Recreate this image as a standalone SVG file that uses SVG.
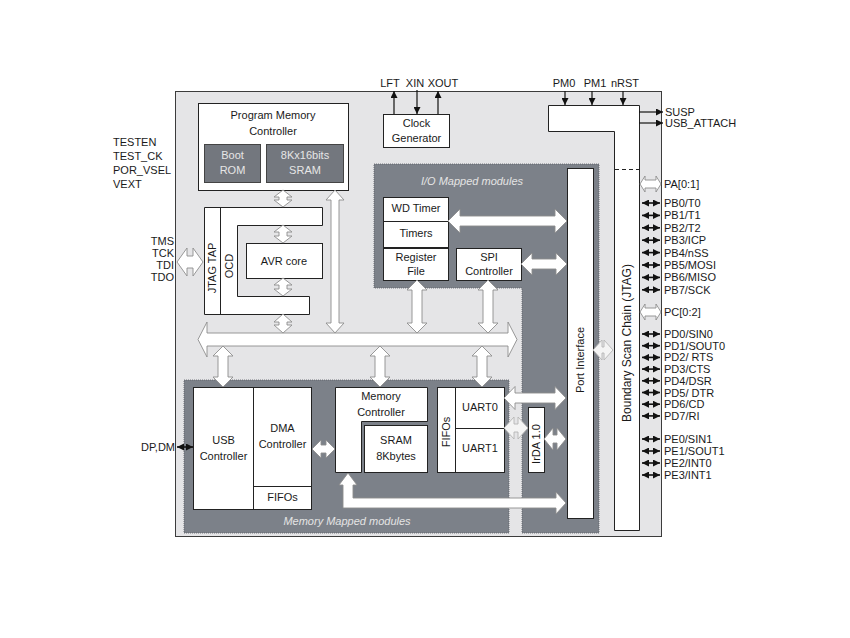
<svg xmlns="http://www.w3.org/2000/svg" width="850" height="638" viewBox="0 0 850 638">
<defs>
<marker id="ah" viewBox="0 0 10 10" refX="10" refY="5" markerWidth="7" markerHeight="7" orient="auto-start-reverse" markerUnits="userSpaceOnUse"><path d="M0,0 L10,5 L0,10 z" fill="#111"/></marker>
<style>
text{font-family:"Liberation Sans",Arial,sans-serif;font-size:11px;fill:#1a1a1a}
.c{text-anchor:middle}
.r{text-anchor:end}
.lt{fill:#e6e6e6}
.it{font-style:italic;fill:#e4e4e4}
.box{fill:#fff;stroke:#222;stroke-width:1}
.dk{fill:#7c8189;stroke:#5a5e64;stroke-width:0.8;stroke-dasharray:1 1}
.rom{fill:#73777e;stroke:#444;stroke-width:1}
.fat{fill:#fff;stroke:#8d8d8d;stroke-width:0.9}
.fatl{fill:#f4f4f4;stroke:#b4b4b4;stroke-width:0.9}
.ln{stroke:#111;stroke-width:1.2;fill:none}
.pin{stroke:#111;stroke-width:1.6;fill:none;marker-start:url(#ah);marker-end:url(#ah)}
</style>
</defs>
<rect width="850" height="638" fill="#fff"/>

<g id="chip">
<rect x="175.5" y="91.5" width="486" height="445" fill="#e5e5e7" stroke="#3c3c3c" stroke-width="1"/>
<path class="dk" d="M374,164 L599,164 L599,533 L522,533 L522,288 L374,288 Z"/>
<rect class="dk" x="184" y="380" width="325" height="153"/>
<text class="it c" x="472" y="185">I/O Mapped modules</text>
<text class="it c" x="347" y="525">Memory Mapped modules</text>
</g>

<g id="ext-labels">
<text x="113" y="146">TESTEN</text>
<text x="113" y="160">TEST_CK</text>
<text x="113" y="174">POR_VSEL</text>
<text x="113" y="188">VEXT</text>
<text class="r" x="174" y="245">TMS</text>
<text class="r" x="174" y="257">TCK</text>
<text class="r" x="174" y="269">TDI</text>
<text class="r" x="174" y="281">TDO</text>
<text class="r" x="175" y="451">DP,DM</text>
<text class="c" x="390" y="87">LFT</text>
<text class="c" x="415" y="87">XIN</text>
<text class="c" x="443" y="87">XOUT</text>
<text class="c" x="564" y="87">PM0</text>
<text class="c" x="595" y="87">PM1</text>
<text class="c" x="625" y="87">nRST</text>
<text x="665" y="116">SUSP</text>
<text x="665" y="127">USB_ATTACH</text>
</g>

<g id="program-memory">
<rect class="box" x="198.5" y="103.5" width="150" height="87"/>
<text class="c" x="273" y="119">Program Memory</text>
<text class="c" x="273" y="135">Controller</text>
<rect class="rom" x="204.5" y="144.5" width="56" height="38"/>
<text class="c lt" x="232.5" y="159">Boot</text>
<text class="c lt" x="232.5" y="174">ROM</text>
<rect class="rom" x="266.5" y="144.5" width="77" height="38"/>
<text class="c lt" x="305" y="159">8Kx16bits</text>
<text class="c lt" x="305" y="174">SRAM</text>
</g>

<g id="clock-generator">
<rect class="box" x="383.5" y="114.5" width="66" height="33"/>
<text class="c" x="416.5" y="127">Clock</text>
<text class="c" x="416.5" y="142">Generator</text>
</g>

<g id="jtag-ocd">
<path class="box" d="M204.5,207.5 L322.5,207.5 L322.5,225.5 L237.5,225.5 L237.5,296.5 L309.5,296.5 L309.5,314.5 L204.5,314.5 Z"/>
<line x1="220.5" y1="207.5" x2="220.5" y2="314.5" stroke="#222"/>
<text class="c" transform="translate(216,268) rotate(-90)">JTAG TAP</text>
<text class="c" transform="translate(233,266) rotate(-90)">OCD</text>
</g>

<g id="avr-core">
<rect class="box" x="246.5" y="243.5" width="76" height="35"/>
<text class="c" x="284" y="265">AVR core</text>
</g>

<g id="timers">
<rect class="box" x="383.5" y="197.5" width="65" height="24"/>
<text class="c" x="416" y="212">WD Timer</text>
<rect class="box" x="383.5" y="221.5" width="65" height="26"/>
<text class="c" x="416" y="237">Timers</text>
</g>
<g id="register-file">
<rect class="box" x="383.5" y="248.5" width="65" height="32"/>
<text class="c" x="416" y="261">Register</text>
<text class="c" x="416" y="275">File</text>
</g>
<g id="spi">
<rect class="box" x="456.5" y="248.5" width="65" height="32"/>
<text class="c" x="489" y="261">SPI</text>
<text class="c" x="489" y="275">Controller</text>
</g>

<g id="port-interface">
<rect class="box" x="567.5" y="168.5" width="26" height="350"/>
<text class="c" transform="translate(584,360) rotate(-90)">Port Interface</text>
</g>

<g id="power-scan">
<path class="box" d="M548.5,105.5 L639.5,105.5 L639.5,530.5 L614.5,530.5 L614.5,131.5 L548.5,131.5 Z"/>
<line x1="615" y1="169.5" x2="639" y2="169.5" stroke="#222" stroke-dasharray="4 3"/>
<text class="c" transform="translate(631,343) rotate(-90)" style="font-size:12px">Boundary Scan Chain (JTAG)</text>
</g>

<g id="usb">
<rect class="box" x="193.5" y="387.5" width="60" height="122"/>
<text class="c" x="223.5" y="444">USB</text>
<text class="c" x="223.5" y="460">Controller</text>
</g>
<g id="dma">
<rect class="box" x="253.5" y="387.5" width="58" height="122"/>
<line x1="253.5" y1="486.5" x2="311.5" y2="486.5" stroke="#222"/>
<text class="c" x="282.5" y="432">DMA</text>
<text class="c" x="282.5" y="448">Controller</text>
<text class="c" x="282.5" y="501">FIFOs</text>
</g>

<g id="memory-controller">
<path class="box" d="M335.5,387.5 L427.5,387.5 L427.5,421.5 L361.5,421.5 L361.5,472.5 L335.5,472.5 Z"/>
<text class="c" x="381" y="400">Memory</text>
<text class="c" x="381" y="416">Controller</text>
</g>
<g id="sram">
<rect class="box" x="364.5" y="425.5" width="63" height="47"/>
<text class="c" x="396" y="444">SRAM</text>
<text class="c" x="396" y="460">8Kbytes</text>
</g>

<g id="uarts">
<rect class="box" x="437.5" y="387.5" width="18" height="85"/>
<text class="c" transform="translate(450,432) rotate(-90)">FIFOs</text>
<rect class="box" x="455.5" y="387.5" width="49" height="41"/>
<text class="c" x="480" y="411">UART0</text>
<rect class="box" x="455.5" y="428.5" width="49" height="44"/>
<text class="c" x="480" y="452">UART1</text>
</g>

<g id="irda">
<rect class="box" x="528.5" y="407.5" width="16" height="65"/>
<text class="c" transform="translate(540,444) rotate(-90)">IrDA 1.0</text>
</g>

<g id="pins">
<path class="fat" d="M640,184 L645,176 L645,180 L656,180 L656,176 L661,184 L656,192 L656,188 L645,188 L645,192 Z"/>
<text x="664" y="188">PA[0:1]</text>
<line class="pin" x1="642" y1="203" x2="660" y2="203"/><text x="664" y="207">PB0/T0</text>
<line class="pin" x1="642" y1="215.4" x2="660" y2="215.4"/><text x="664" y="219.4">PB1/T1</text>
<line class="pin" x1="642" y1="227.8" x2="660" y2="227.8"/><text x="664" y="231.8">PB2/T2</text>
<line class="pin" x1="642" y1="240.2" x2="660" y2="240.2"/><text x="664" y="244.2">PB3/ICP</text>
<line class="pin" x1="642" y1="252.6" x2="660" y2="252.6"/><text x="664" y="256.6">PB4/nSS</text>
<line class="pin" x1="642" y1="265" x2="660" y2="265"/><text x="664" y="269">PB5/MOSI</text>
<line class="pin" x1="642" y1="277.4" x2="660" y2="277.4"/><text x="664" y="281.4">PB6/MISO</text>
<line class="pin" x1="642" y1="289.8" x2="660" y2="289.8"/><text x="664" y="293.8">PB7/SCK</text>
<path class="fat" d="M640,312 L645,304 L645,308 L656,308 L656,304 L661,312 L656,320 L656,316 L645,316 L645,320 Z"/>
<text x="664" y="316">PC[0:2]</text>
<line class="pin" x1="642" y1="334" x2="660" y2="334"/><text x="664" y="338">PD0/SIN0</text>
<line class="pin" x1="642" y1="345.7" x2="660" y2="345.7"/><text x="664" y="349.7">PD1/SOUT0</text>
<line class="pin" x1="642" y1="357.4" x2="660" y2="357.4"/><text x="664" y="361.4">PD2/ RTS</text>
<line class="pin" x1="642" y1="369.1" x2="660" y2="369.1"/><text x="664" y="373.1">PD3/CTS</text>
<line class="pin" x1="642" y1="380.8" x2="660" y2="380.8"/><text x="664" y="384.8">PD4/DSR</text>
<line class="pin" x1="642" y1="392.5" x2="660" y2="392.5"/><text x="664" y="396.5">PD5/ DTR</text>
<line class="pin" x1="642" y1="404.2" x2="660" y2="404.2"/><text x="664" y="408.2">PD6/CD</text>
<line class="pin" x1="642" y1="415.9" x2="660" y2="415.9"/><text x="664" y="419.9">PD7/RI</text>
<line class="pin" x1="642" y1="439" x2="660" y2="439"/><text x="664" y="443">PE0/SIN1</text>
<line class="pin" x1="642" y1="451" x2="660" y2="451"/><text x="664" y="455">PE1/SOUT1</text>
<line class="pin" x1="642" y1="463" x2="660" y2="463"/><text x="664" y="467">PE2/INT0</text>
<line class="pin" x1="642" y1="475" x2="660" y2="475"/><text x="664" y="479">PE3/INT1</text>
</g>

<g id="connectors">
<path class="fat" d="M198,339.5 L207,322 L207,333 L508,333 L508,322 L517,339.5 L508,357 L508,346 L207,346 L207,357 Z"/>
<path class="fat" d="M283,190 L292,197 L287,197 L287,200 L292,200 L283,207 L274,200 L279,200 L279,197 L274,197 Z"/>
<path class="fat" d="M283,225 L292,232 L287,232 L287,236 L292,236 L283,243 L274,236 L279,236 L279,232 L274,232 Z"/>
<path class="fat" d="M283,278 L292,285 L287,285 L287,289 L292,289 L283,296 L274,289 L279,289 L279,285 L274,285 Z"/>
<path class="fat" d="M283,314 L292,322 L287,322 L287,325 L292,325 L283,333 L274,325 L279,325 L279,322 L274,322 Z"/>
<path class="fat" d="M335,190 L344,200 L339,200 L339,323 L344,323 L335,333 L326,323 L331,323 L331,200 L326,200 Z"/>
<path class="fat" d="M417,280 L427,290 L422,290 L422,323 L427,323 L417,333 L407,323 L412,323 L412,290 L407,290 Z"/>
<path class="fat" d="M488,280 L498,290 L493,290 L493,323 L498,323 L488,333 L478,323 L483,323 L483,290 L478,290 Z"/>
<path class="fat" d="M223,346 L233,356 L228,356 L228,377 L233,377 L223,387 L213,377 L218,377 L218,356 L213,356 Z"/>
<path class="fat" d="M380,346 L390,356 L385,356 L385,377 L390,377 L380,387 L370,377 L375,377 L375,356 L370,356 Z"/>
<path class="fat" d="M482,346 L492,356 L487,356 L487,377 L492,377 L482,387 L472,377 L477,377 L477,356 L472,356 Z"/>
<path class="fat" d="M177,262 L187,248 L187,256 L193,256 L193,248 L203,262 L193,276 L193,268 L187,268 L187,276 Z"/>
<path class="fat" d="M448,221 L460,209 L460,216 L555,216 L555,209 L567,221 L555,233 L555,226 L460,226 L460,233 Z"/>
<path class="fat" d="M521,264 L532,253 L532,259 L556,259 L556,253 L567,264 L556,275 L556,269 L532,269 L532,275 Z"/>
<path class="fat" d="M312,449 L321,440 L321,445 L326,445 L326,440 L335,449 L326,458 L326,453 L321,453 L321,458 Z"/>
<path class="fat" d="M504,398 L515,386.5 L515,393 L555,393 L555,386.5 L566,398 L555,409.5 L555,403 L515,403 L515,409.5 Z"/>
<path class="fatl" d="M504,428 L514,417 L514,424 L518,424 L518,417 L528,428 L518,439 L518,432 L514,432 L514,439 Z"/>
<path class="fat" d="M544,439 L553,428 L553,435 L557,435 L557,428 L566,439 L557,450 L557,443 L553,443 L553,450 Z"/>
<path class="fatl" d="M593,350 L602,340 L602,347 L604,347 L604,340 L613,350 L604,360 L604,353 L602,353 L602,360 Z"/>
<path class="fat" d="M348,473 L357,485 L353,485 L353,498 L556,498 L556,492 L566,503 L556,514 L556,508 L343,508 L343,485 L339,485 Z"/>
<line class="ln" x1="394" y1="114" x2="394" y2="91" marker-end="url(#ah)"/>
<line class="ln" x1="417" y1="90" x2="417" y2="114" marker-end="url(#ah)"/>
<line class="ln" x1="438" y1="114" x2="438" y2="91" marker-end="url(#ah)"/>
<line class="ln" x1="565" y1="91" x2="565" y2="105" marker-end="url(#ah)"/>
<line class="ln" x1="592" y1="91" x2="592" y2="105" marker-end="url(#ah)"/>
<line class="ln" x1="623" y1="91" x2="623" y2="105" marker-end="url(#ah)"/>
<line class="ln" x1="639" y1="112" x2="663" y2="112" marker-end="url(#ah)"/>
<line class="ln" x1="639" y1="123" x2="663" y2="123" marker-end="url(#ah)"/>
<line class="pin" x1="177" y1="447" x2="193" y2="447"/>
</g>
</svg>
